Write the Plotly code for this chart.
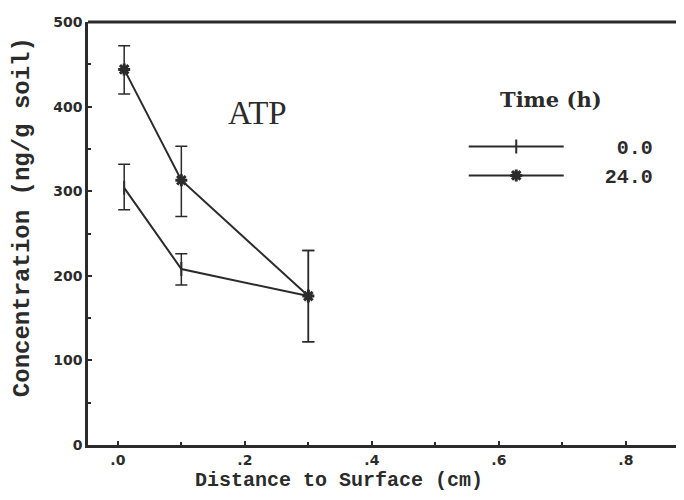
import plotly.graph_objects as go

distance = [0.01, 0.10, 0.30]
atp_0h = [304, 208, 176]
atp_0h_err_plus = [28, 18, 54]
atp_0h_err_minus = [26, 19, 54]
atp_24h = [444, 313, 176]
atp_24h_err_plus = [28, 40, 54]
atp_24h_err_minus = [29, 43, 54]
series_names = ["0.0", "24.0"]
xtick_vals = [0.0, 0.2, 0.4, 0.6, 0.8]
xtick_text = [".0", ".2", ".4", ".6", ".8"]
ytick_vals = [0, 100, 200, 300, 400, 500]

ink = "#2b2b2b"
pad = "\u00a0"


def legend_label(name, width=7):
    return pad * (width - len(name)) + name


fig = go.Figure()
fig.add_trace(go.Scatter(
    x=distance, y=atp_0h, name=legend_label(series_names[0]), mode="lines+markers",
    line=dict(color=ink, width=2),
    marker=dict(symbol="line-ns", size=10, line=dict(color=ink, width=2), color=ink),
    error_y=dict(type="data", symmetric=False, array=atp_0h_err_plus,
                 arrayminus=atp_0h_err_minus, color=ink, thickness=1.5, width=6),
))
fig.add_trace(go.Scatter(
    x=distance, y=atp_24h, name=legend_label(series_names[1]), mode="lines+markers",
    line=dict(color=ink, width=2),
    marker=dict(symbol="asterisk", size=10, line=dict(color=ink, width=3), color=ink),
    error_y=dict(type="data", symmetric=False, array=atp_24h_err_plus,
                 arrayminus=atp_24h_err_minus, color=ink, thickness=1.5, width=6),
))

fig.add_annotation(x=0.22, y=392, xref="x", yref="y", text="ATP", showarrow=False,
                   font=dict(family="Liberation Serif", size=33, color=ink))
fig.add_annotation(x=0.787, y=0.816, xref="paper", yref="paper", text="Time (h)",
                   showarrow=False, xanchor="center", yanchor="middle",
                   font=dict(family="DejaVu Serif", size=21, color=ink, weight="bold"))
fig.add_annotation(x=0.427, y=-0.085, xref="paper", yref="paper",
                   text="Distance to Surface (cm)", showarrow=False,
                   xanchor="center", yanchor="middle",
                   font=dict(family="Liberation Mono", size=20, color=ink, weight="bold"))
fig.add_annotation(x=-0.112, y=0.539, xref="paper", yref="paper", textangle=-90,
                   text="Concentration (ng/g soil)", showarrow=False,
                   xanchor="center", yanchor="middle",
                   font=dict(family="Liberation Mono", size=24, color=ink, weight="bold"))

fig.update_layout(
    width=668, height=484,
    margin=dict(l=80, r=0, t=14, b=47),
    paper_bgcolor="white", plot_bgcolor="white",
    showlegend=True,
    legend=dict(
        x=0.639, y=0.752, xanchor="left", yanchor="top",
        font=dict(family="Liberation Mono", size=20, color=ink, weight="bold"),
        bgcolor="rgba(0,0,0,0)", itemwidth=95, tracegroupgap=0,
    ),
    xaxis=dict(
        range=[-0.047, 0.879], tickvals=xtick_vals, ticktext=xtick_text,
        ticks="inside", ticklen=4, tickcolor=ink, tickwidth=1.5,
        showline=True, linecolor=ink, linewidth=3, mirror=False,
        showgrid=False, zeroline=False,
        tickfont=dict(family="DejaVu Sans", size=14, color=ink, weight="bold"),
        minor=dict(dtick=0.1, tick0=0, ticks="inside", ticklen=3, tickcolor=ink),
    ),
    yaxis=dict(
        range=[0, 500], tickvals=ytick_vals,
        ticks="inside", ticklen=4, tickcolor=ink, tickwidth=1.5,
        showline=True, linecolor=ink, linewidth=2.5,
        showgrid=False, zeroline=False,
        tickfont=dict(family="DejaVu Sans", size=14, color=ink, weight="bold"),
        minor=dict(dtick=50, tick0=0, ticks="inside", ticklen=3, tickcolor=ink),
    ),
    shapes=[dict(type="line", xref="paper", yref="paper", x0=0, x1=1, y0=1, y1=1,
                 line=dict(color=ink, width=3))],
)

fig.write_html("out.html")
